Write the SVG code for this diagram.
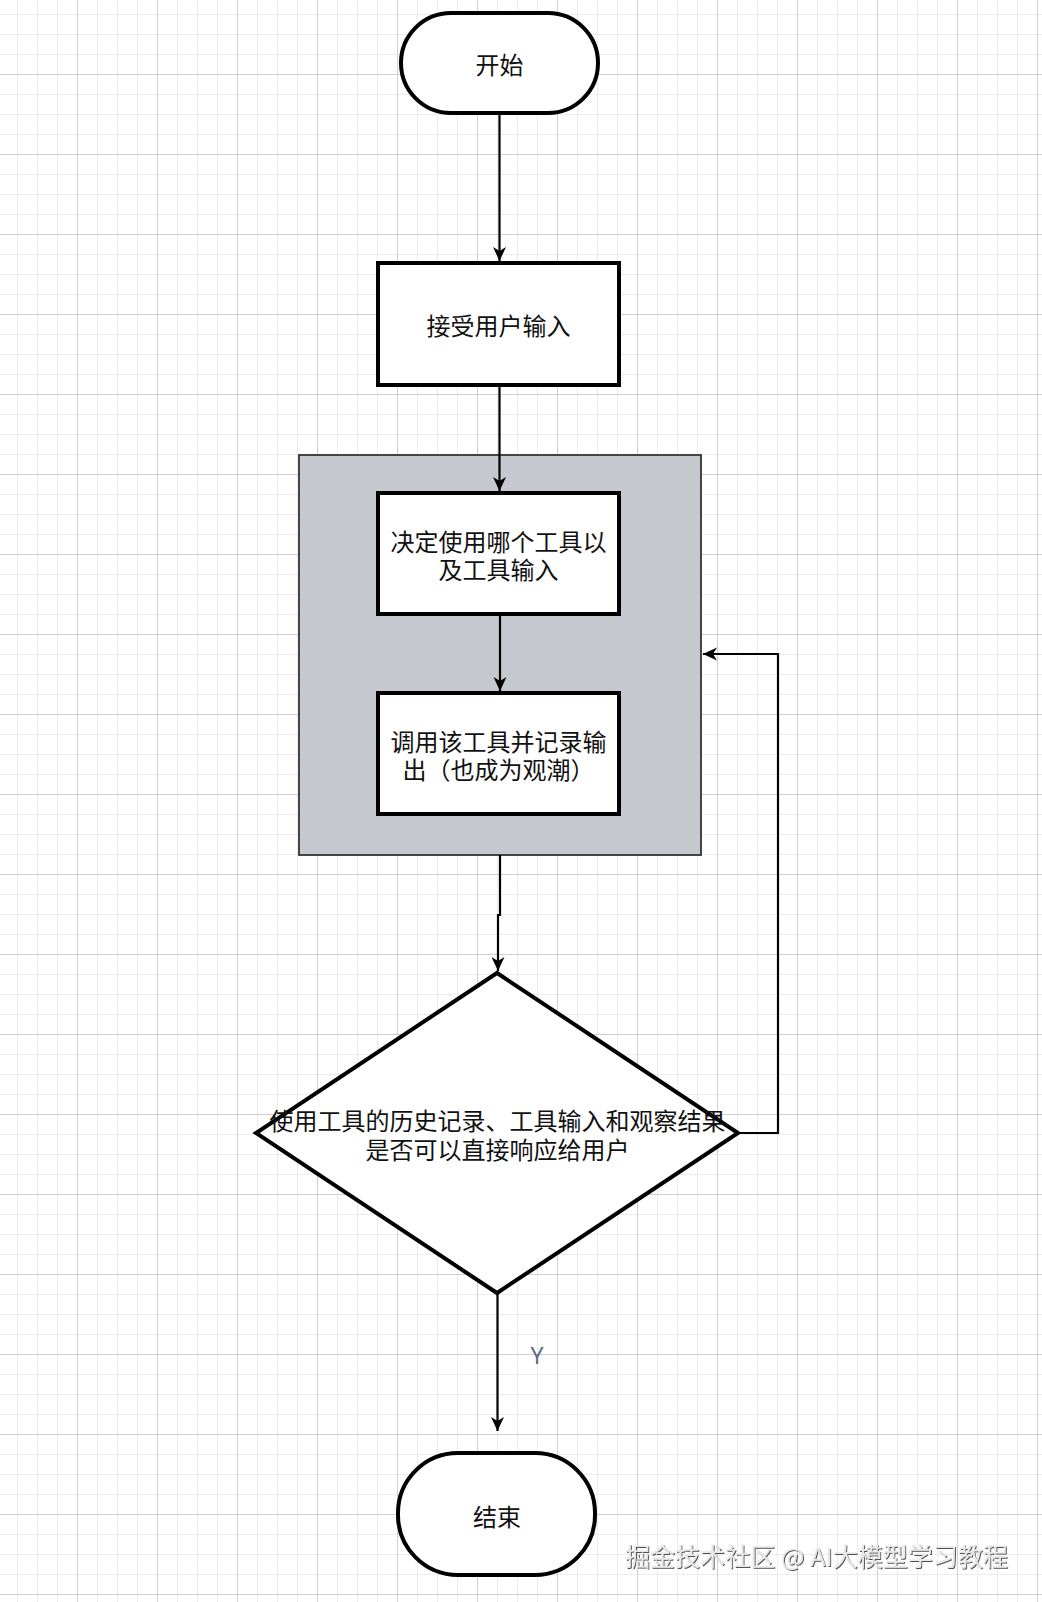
<svg xmlns="http://www.w3.org/2000/svg" width="1042" height="1602" viewBox="0 0 1042 1602">
  <defs>
    <pattern id="grid" patternUnits="userSpaceOnUse" x="-3" y="-6" width="80" height="80">
      <rect x="0" y="0" width="80" height="80" fill="#ffffff"/>
      <rect x="20" y="0" width="1" height="80" fill="#ececec"/>
      <rect x="40" y="0" width="1" height="80" fill="#ececec"/>
      <rect x="60" y="0" width="1" height="80" fill="#ececec"/>
      <rect x="0" y="20" width="80" height="1" fill="#ececec"/>
      <rect x="0" y="40" width="80" height="1" fill="#ececec"/>
      <rect x="0" y="60" width="80" height="1" fill="#ececec"/>
      <rect x="0" y="0" width="1" height="80" fill="#d0d0d0"/>
      <rect x="0" y="0" width="80" height="1" fill="#d0d0d0"/>
    </pattern>
    <marker id="arrow" markerUnits="userSpaceOnUse" markerWidth="16" markerHeight="14" refX="14" refY="7" orient="auto">
      <path d="M0,0.5 L14,7 L0,13.5 L4,7 Z" fill="#000"/>
    </marker>
    <filter id="emboss" x="-5%" y="-30%" width="110%" height="160%">
      <feDropShadow dx="1" dy="1" stdDeviation="0.6" flood-color="#333" flood-opacity="0.85"/>
    </filter>
  </defs>
  <style>
    .node { fill: #ffffff; stroke: #000; stroke-width: 4; }
    .label { font-family: "Noto Sans CJK SC", "Noto Sans", sans-serif; font-size: 24px; fill: #111; text-anchor: middle; dominant-baseline: central; }
    .edge { fill: none; stroke: #000; stroke-width: 2.2; }
  </style>
  <rect x="0" y="0" width="1042" height="1602" fill="url(#grid)"/>

  <g id="container">
    <rect x="299" y="455" width="402" height="400" fill="#c5c8cf" stroke="#333" stroke-width="1.8"/>
  </g>

  <g id="connectors">
    <path class="edge" d="M499.5 113 V261" marker-end="url(#arrow)"/>
    <path class="edge" d="M499.5 385 V491" marker-end="url(#arrow)"/>
    <path class="edge" d="M500 614 V691" marker-end="url(#arrow)"/>
    <path class="edge" d="M500 855 V915 H498 V971" marker-end="url(#arrow)"/>
    <path class="edge" d="M738 1133 H778 V654 H703" marker-end="url(#arrow)"/>
    <path class="edge" d="M497.5 1293 V1431" marker-end="url(#arrow)"/>
    <text x="537" y="1355" font-family="'Noto Sans', 'Liberation Sans', sans-serif" font-size="23" fill="#5e6b8a" text-anchor="middle" dominant-baseline="central">Y</text>
  </g>

  <g id="start">
    <rect class="node" x="401" y="13" width="197" height="100" rx="50" ry="50"/>
    <text class="label" x="499.5" y="63">开始</text>
  </g>

  <g id="input">
    <rect class="node" x="378" y="263" width="241" height="122"/>
    <text class="label" x="498.5" y="324">接受用户输入</text>
  </g>

  <g id="decide">
    <rect class="node" x="378" y="493" width="241" height="121"/>
    <text class="label"><tspan x="498.5" y="540">决定使用哪个工具以</tspan><tspan x="498.5" y="568">及工具输入</tspan></text>
  </g>

  <g id="invoke">
    <rect class="node" x="378" y="693" width="241" height="121"/>
    <text class="label"><tspan x="498.5" y="740">调用该工具并记录输</tspan><tspan x="498.5" y="768">出（也成为观潮）</tspan></text>
  </g>

  <g id="check">
    <polygon class="node" points="497,973 738,1133 497,1293 256,1133"/>
    <text class="label"><tspan x="497.5" y="1119">使用工具的历史记录、工具输入和观察结果</tspan><tspan x="497.5" y="1148">是否可以直接响应给用户</tspan></text>
  </g>

  <g id="end">
    <rect class="node" x="398" y="1453" width="197" height="122" rx="60" ry="60"/>
    <text class="label" x="497" y="1515">结束</text>
  </g>

  <text x="625" y="1555" font-family="'Noto Sans CJK SC', 'Noto Sans', sans-serif" font-size="24.5" fill="#e8e8e8" dominant-baseline="central" filter="url(#emboss)" textLength="383" lengthAdjust="spacingAndGlyphs">掘金技术社区 @ AI大模型学习教程</text>
</svg>
